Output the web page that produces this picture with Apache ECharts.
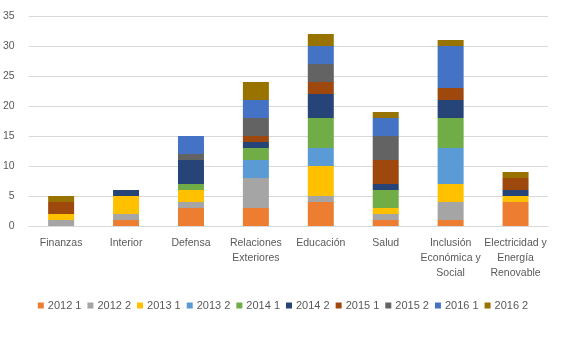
<!DOCTYPE html>
<html><head><meta charset="utf-8">
<script src="https://cdn.jsdelivr.net/npm/echarts@6/dist/echarts.min.js"></script>
<style>html,body{margin:0;padding:0;background:#fff}#c{width:566px;height:338px}</style>
</head><body><div id="c"></div>
<script>
const categories = ["Finanzas","Interior","Defensa","Relaciones\nExteriores","Educación","Salud","Inclusión\nEconómica y\nSocial","Electricidad y\nEnergía\nRenovable"];
const seriesNames = ["2012 1","2012 2","2013 1","2013 2","2014 1","2014 2","2015 1","2015 2","2016 1","2016 2"];
const colors = ["#ED7D31","#A5A5A5","#FFC000","#5B9BD5","#70AD47","#264478","#9E480E","#636363","#4472C4","#997300"];
const s2012_1 = [0,1,3,3,4,1,1,4];
const s2012_2 = [1,1,1,5,1,1,3,0];
const s2013_1 = [1,3,2,0,5,1,3,1];
const s2013_2 = [0,0,0,3,3,0,6,0];
const s2014_1 = [0,0,1,2,5,3,5,0];
const s2014_2 = [0,1,4,1,4,1,3,1];
const s2015_1 = [2,0,0,1,2,4,2,2];
const s2015_2 = [0,0,1,3,3,4,0,0];
const s2016_1 = [0,0,3,3,3,3,7,0];
const s2016_2 = [1,0,0,3,2,1,1,1];
const values = [s2012_1,s2012_2,s2013_1,s2013_2,s2014_1,s2014_2,s2015_1,s2015_2,s2016_1,s2016_2];
const yTicks = [0,5,10,15,20,25,30,35];

const chart = echarts.init(document.getElementById('c'));
chart.setOption({
  animation:false,
  color: colors,
  textStyle:{fontFamily:'Liberation Sans, Arial, sans-serif'},
  grid:{left:27,right:18,top:16,bottom:112},
  legend:{
    bottom:22, left:'center',
    itemWidth:6,itemHeight:6,itemGap:6,icon:'rect',
    textStyle:{color:'#595959',fontSize:11,padding:[0,0,0,-1]},
    data:seriesNames
  },
  xAxis:{
    type:'category', data:categories,
    axisLine:{lineStyle:{color:'#d9d9d9'}},
    axisTick:{show:false},
    axisLabel:{color:'#595959',fontSize:10.5,interval:0,lineHeight:15,margin:10}
  },
  yAxis:{
    type:'value', min:yTicks[0], max:yTicks[yTicks.length-1], interval:5,
    axisLine:{show:false}, axisTick:{show:false},
    splitLine:{lineStyle:{color:'#d9d9d9'}},
    axisLabel:{color:'#595959',fontSize:10.5,margin:14}
  },
  series: seriesNames.map((n,i)=>({
    name:n, type:'bar', stack:'total', barWidth:26,
    data: values[i]
  }))
});
</script></body></html>
